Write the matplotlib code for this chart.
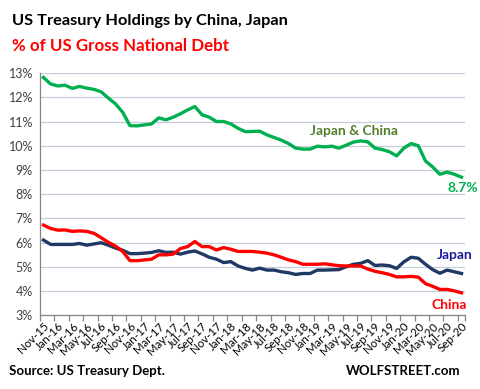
import matplotlib.pyplot as plt
from matplotlib.ticker import FixedLocator, FuncFormatter

plt.rcParams['font.family'] = ['Lato', 'DejaVu Sans']

# monthly, Nov-15 .. Sep-20
months = ['Nov-15', 'Dec-15',
          'Jan-16', 'Feb-16', 'Mar-16', 'Apr-16', 'May-16', 'Jun-16',
          'Jul-16', 'Aug-16', 'Sep-16', 'Oct-16', 'Nov-16', 'Dec-16',
          'Jan-17', 'Feb-17', 'Mar-17', 'Apr-17', 'May-17', 'Jun-17',
          'Jul-17', 'Aug-17', 'Sep-17', 'Oct-17', 'Nov-17', 'Dec-17',
          'Jan-18', 'Feb-18', 'Mar-18', 'Apr-18', 'May-18', 'Jun-18',
          'Jul-18', 'Aug-18', 'Sep-18', 'Oct-18', 'Nov-18', 'Dec-18',
          'Jan-19', 'Feb-19', 'Mar-19', 'Apr-19', 'May-19', 'Jun-19',
          'Jul-19', 'Aug-19', 'Sep-19', 'Oct-19', 'Nov-19', 'Dec-19',
          'Jan-20', 'Feb-20', 'Mar-20', 'Apr-20', 'May-20', 'Jun-20',
          'Jul-20', 'Aug-20', 'Sep-20']

both = [12.82, 12.55, 12.47, 12.5, 12.37, 12.45, 12.38, 12.33, 12.23, 11.97,
        11.73, 11.38, 10.83, 10.82, 10.86, 10.9, 11.15, 11.07, 11.18, 11.32,
        11.48, 11.62, 11.28, 11.18, 11.0, 11.0, 10.9, 10.72, 10.58, 10.59,
        10.6, 10.45, 10.34, 10.23, 10.09, 9.9, 9.86, 9.86, 9.98, 9.95,
        9.98, 9.9, 10.02, 10.15, 10.2, 10.16, 9.9, 9.84, 9.75, 9.58,
        9.9, 10.09, 10.0, 9.37, 9.12, 8.82, 8.91, 8.82, 8.7]

japan = [6.1, 5.92, 5.92, 5.92, 5.92, 5.96, 5.89, 5.94, 5.99, 5.89,
         5.77, 5.68, 5.54, 5.54, 5.56, 5.59, 5.66, 5.59, 5.6, 5.52,
         5.6, 5.65, 5.53, 5.39, 5.31, 5.17, 5.21, 5.03, 4.93, 4.86,
         4.94, 4.86, 4.86, 4.79, 4.75, 4.68, 4.72, 4.72, 4.86, 4.86,
         4.87, 4.88, 5.0, 5.1, 5.14, 5.25, 5.05, 5.07, 5.04, 4.93,
         5.2, 5.39, 5.35, 5.1, 4.88, 4.73, 4.86, 4.79, 4.72]

china = [6.72, 6.58, 6.51, 6.52, 6.46, 6.48, 6.46, 6.38, 6.2, 6.01,
         5.85, 5.63, 5.25, 5.25, 5.28, 5.31, 5.49, 5.49, 5.52, 5.75,
         5.83, 6.04, 5.83, 5.83, 5.69, 5.79, 5.72, 5.63, 5.63, 5.63,
         5.6, 5.56, 5.49, 5.39, 5.28, 5.21, 5.1, 5.1, 5.1, 5.12,
         5.08, 5.04, 5.03, 5.03, 5.03, 4.9, 4.81, 4.75, 4.68, 4.58,
         4.58, 4.6, 4.57, 4.3, 4.19, 4.06, 4.06, 4.0, 3.92]

x = list(range(len(months)))

fig = plt.figure(figsize=(4.8, 3.89), dpi=100)
ax = fig.add_axes([0.083, 0.19, 0.886, 0.622])

ax.plot(x, both, color='#00b050', lw=2.4, solid_joinstyle='round')
ax.plot(x, japan, color='#1f3864', lw=2.4, solid_joinstyle='round')
ax.plot(x, china, color='#ff0000', lw=2.4, solid_joinstyle='round')

ax.set_xlim(-0.5, len(months) - 0.5)
ax.set_ylim(3, 13)
ax.set_yticks(range(3, 14))
ax.yaxis.set_major_formatter(FuncFormatter(lambda v, p: '{:d}%'.format(int(v))))
ax.grid(axis='y', color='#c5cddb', lw=0.9)
ax.set_axisbelow(True)

ax.set_xticks(x[::2])
ax.set_xticklabels(months[::2], rotation=45, ha='right', rotation_mode='anchor',
                   fontsize=8.3, color='black')
ax.xaxis.set_minor_locator(FixedLocator([i - 0.5 for i in x[::2]] + [len(months) - 0.5]))
ax.tick_params(axis='x', which='major', length=0, pad=4)
ax.tick_params(axis='x', which='minor', length=4, color='#868686', width=0.9)
ax.tick_params(axis='y', length=0, labelsize=9, labelcolor='#404040', pad=5)

for s in ['top', 'right']:
    ax.spines[s].set_visible(False)
for s in ['left', 'bottom']:
    ax.spines[s].set_color('#868686')
    ax.spines[s].set_linewidth(0.9)

ax.text(37, 10.45, 'Japan & China', color='#4f7f2a', fontsize=10, fontweight='bold')
ax.text(58.2, 8.1, '8.7%', color='#00b050', fontsize=10, fontweight='bold', ha='center')
ax.text(57.0, 5.3, 'Japan', color='#1a1a9e', fontsize=10, fontweight='bold', ha='center')
ax.text(56.3, 3.25, 'China', color='#ff0000', fontsize=10, fontweight='bold', ha='center')

fig.text(0.025, 0.935, 'US Treasury Holdings by China, Japan', fontsize=11.8,
         fontweight='bold', color='black')
fig.text(0.025, 0.87, '% of US Gross National Debt', fontsize=12.2,
         fontweight='bold', color='#ff0000')
fig.text(0.018, 0.035, 'Source: US Treasury Dept.', fontsize=9.5, fontweight='bold')
fig.text(0.96, 0.035, 'WOLFSTREET.com', fontsize=9.5, fontweight='bold', ha='right')

fig.savefig('out.png', dpi=100, facecolor='white')
